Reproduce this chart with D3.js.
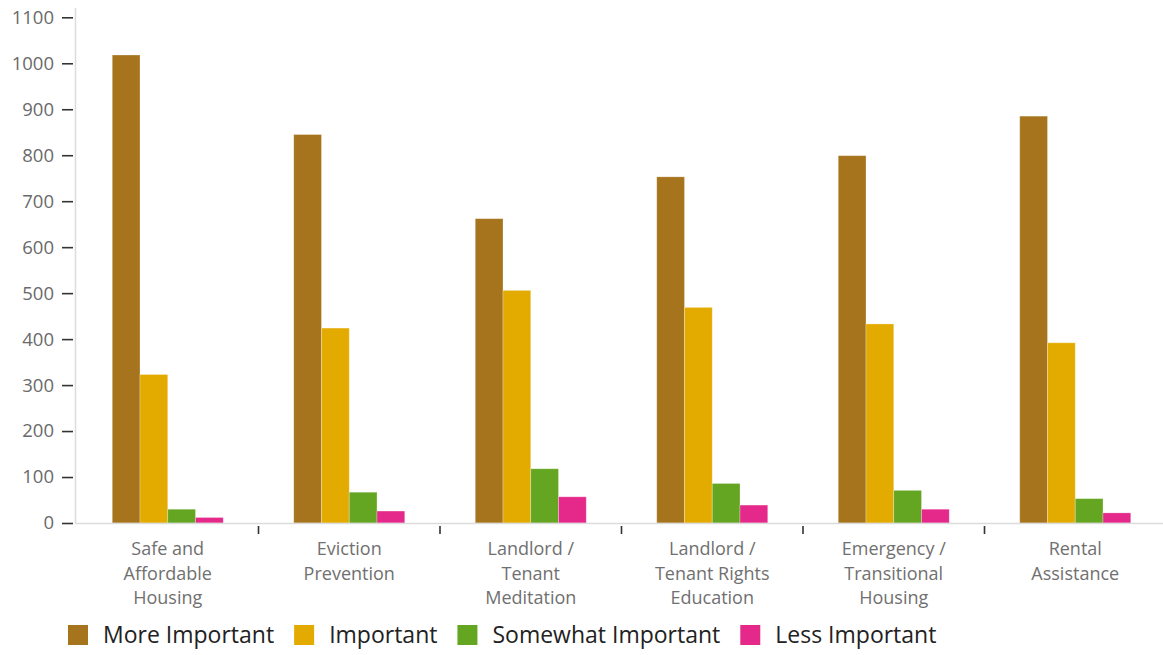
<!DOCTYPE html>
<html>
<head>
<meta charset="utf-8">
<script src="https://cdn.jsdelivr.net/npm/d3@7"></script>
<style>
  html, body { margin: 0; padding: 0; background: #fff; }
  svg { display: block; font-family: "Open Sans", "Noto Sans", sans-serif; }
</style>
</head>
<body>
<svg id="chart" width="1163" height="655"></svg>
<script>
// Housing priorities: number of responses per importance rating
const categories = [
  "Safe and Affordable Housing",
  "Eviction Prevention",
  "Landlord / Tenant Meditation",
  "Landlord / Tenant Rights Education",
  "Emergency / Transitional Housing",
  "Rental Assistance"
];
const categoryLines = [
  ["Safe and", "Affordable", "Housing"],
  ["Eviction", "Prevention"],
  ["Landlord /", "Tenant", "Meditation"],
  ["Landlord /", "Tenant Rights", "Education"],
  ["Emergency /", "Transitional", "Housing"],
  ["Rental", "Assistance"]
];
const seriesNames = ["More Important", "Important", "Somewhat Important", "Less Important"];
const seriesColors = ["#A5741C", "#E3AA00", "#64A622", "#E5298A"];
const moreImportant     = [1018, 845, 662, 753, 799, 885];
const important         = [323, 424, 506, 469, 433, 392];
const somewhatImportant = [30, 67, 118, 86, 71, 53];
const lessImportant     = [12, 26, 57, 39, 30, 22];
const yTicks = [0, 100, 200, 300, 400, 500, 600, 700, 800, 900, 1000, 1100];

const seriesValues = [moreImportant, important, somewhatImportant, lessImportant];
const rows = categories.map((c, i) => ({
  category: c,
  lines: categoryLines[i],
  values: seriesNames.map((s, j) => ({ series: s, value: seriesValues[j][i], color: seriesColors[j] }))
}));

const svg = d3.select("#chart");

const x0 = d3.scaleBand().domain(categories).range([77, 1166]).paddingInner(0).paddingOuter(0);
const x1 = d3.scaleBand().domain(seriesNames).range([0, x0.bandwidth()]).paddingInner(0).paddingOuter(1.27);
const y = d3.scaleLinear().domain([0, 1100]).range([523, 17.3]);

// vertical axis line
svg.append("line")
  .attr("x1", 75.5).attr("x2", 75.5)
  .attr("y1", 8).attr("y2", y(0))
  .attr("stroke", "#dcdcdc").attr("stroke-width", 1.5);

// y axis ticks and labels
const yAxis = svg.append("g")
  .attr("transform", "translate(73,0)")
  .call(d3.axisLeft(y).tickValues(yTicks).tickSize(11).tickSizeOuter(0).tickPadding(8).tickFormat(d3.format("d")));
yAxis.select(".domain").remove();
yAxis.selectAll(".tick line").attr("stroke", "#333").attr("stroke-width", 1.6);
yAxis.selectAll(".tick text")
  .attr("fill", "#6a6a6a")
  .style("font-size", "18.5px")
  .style("font-family", "'Open Sans', 'Noto Sans', sans-serif");

// bars
const groups = svg.append("g").selectAll("g")
  .data(rows)
  .join("g")
  .attr("transform", d => `translate(${x0(d.category)},0)`);

groups.selectAll("rect")
  .data(d => d.values)
  .join("rect")
  .attr("x", d => x1(d.series))
  .attr("width", x1.bandwidth())
  .attr("y", d => y(d.value))
  .attr("height", d => y(0) - y(d.value))
  .attr("fill", d => d.color)
  .attr("stroke", "rgba(255,255,255,0.35)")
  .attr("stroke-width", 0.8);

// baseline
svg.append("line")
  .attr("x1", 75).attr("x2", 1163)
  .attr("y1", y(0) + 0.5).attr("y2", y(0) + 0.5)
  .attr("stroke", "#dcdcdc").attr("stroke-width", 1.5);

// category separators
svg.append("g").selectAll("line")
  .data(categories.slice(1))
  .join("line")
  .attr("x1", d => x0(d)).attr("x2", d => x0(d))
  .attr("y1", 526).attr("y2", 534)
  .attr("stroke", "#333").attr("stroke-width", 1.6);

// category labels
const labels = svg.append("g").selectAll("text")
  .data(rows)
  .join("text")
  .attr("text-anchor", "middle")
  .attr("fill", "#707070")
  .style("font-size", "18px")
  .attr("x", d => x0(d.category) + x0.bandwidth() / 2)
  .attr("y", 555);
labels.selectAll("tspan")
  .data(d => d.lines)
  .join("tspan")
  .attr("x", function() { return this.parentNode.getAttribute("x"); })
  .attr("dy", (d, i) => i === 0 ? 0 : 24.5)
  .text(d => d);

// legend
const legend = svg.append("g").attr("transform", "translate(68,0)");
let cursor = 0;
seriesNames.forEach((name, i) => {
  const item = legend.append("g").attr("transform", `translate(${cursor},0)`);
  item.append("rect")
    .attr("x", 0).attr("y", 625)
    .attr("width", 20).attr("height", 20)
    .attr("fill", seriesColors[i]);
  const t = item.append("text")
    .attr("x", 35).attr("y", 643)
    .attr("fill", "#222")
    .style("font-size", "23px")
    .text(name);
  cursor += 35 + t.node().getComputedTextLength() + 20;
});
</script>
</body>
</html>
